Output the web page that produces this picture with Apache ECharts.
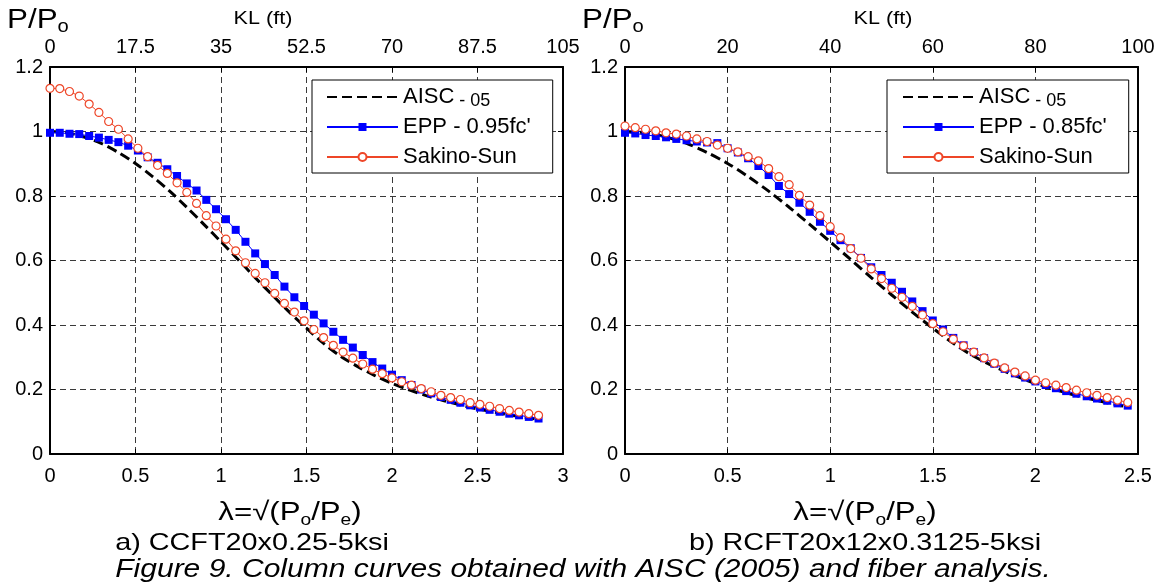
<!DOCTYPE html>
<html><head><meta charset="utf-8">
<script src="https://cdn.jsdelivr.net/npm/echarts@6/dist/echarts.min.js"></script>
<style>html,body{margin:0;padding:0;background:#fff}#c{width:1165px;height:585px}</style>
</head><body><div id="c"></div>
<script>
// ---------- data ----------
const leftLambda = [0,0.057,0.114,0.171,0.229,0.286,0.343,0.4,0.457,0.514,0.571,0.629,0.686,0.743,0.8,0.857,0.914,0.971,1.029,1.086,1.143,1.2,1.257,1.314,1.371,1.429,1.486,1.543,1.6,1.657,1.714,1.771,1.829,1.886,1.943,2.0,2.057,2.114,2.171,2.229,2.286,2.343,2.4,2.457,2.514,2.571,2.629,2.686,2.743,2.8,2.857];
const leftEPP = [0.996,0.996,0.993,0.992,0.986,0.981,0.974,0.967,0.956,0.941,0.920,0.903,0.883,0.862,0.839,0.817,0.788,0.759,0.728,0.695,0.658,0.622,0.589,0.555,0.519,0.486,0.459,0.432,0.405,0.379,0.354,0.330,0.307,0.285,0.265,0.246,0.229,0.214,0.200,0.188,0.177,0.168,0.159,0.151,0.144,0.137,0.131,0.125,0.120,0.115,0.110];
const leftSakino = [1.134,1.133,1.124,1.110,1.085,1.059,1.031,1.007,0.977,0.948,0.922,0.895,0.870,0.841,0.811,0.777,0.739,0.707,0.666,0.630,0.593,0.560,0.531,0.498,0.467,0.440,0.413,0.386,0.361,0.337,0.316,0.297,0.279,0.263,0.249,0.236,0.224,0.2135,0.203,0.193,0.182,0.175,0.169,0.159,0.154,0.148,0.141,0.135,0.130,0.125,0.120];
const leftAiscLambda = [0,0.1,0.2,0.3,0.4,0.5,0.6,0.7,0.8,0.9,1.0,1.1,1.2,1.3,1.4,1.5,1.6,1.7,1.8,1.9,2.0,2.1,2.2,2.3,2.4,2.5,2.6,2.7,2.8,2.857];
const leftAisc = [1,0.996,0.983,0.963,0.935,0.901,0.860,0.815,0.765,0.712,0.658,0.603,0.547,0.493,0.440,0.390,0.343,0.303,0.271,0.243,0.219,0.199,0.181,0.166,0.152,0.140,0.130,0.120,0.112,0.107];

const rightLambda = [0,0.05,0.1,0.15,0.2,0.25,0.3,0.35,0.4,0.45,0.5,0.55,0.6,0.65,0.7,0.75,0.8,0.85,0.9,0.95,1.0,1.05,1.1,1.15,1.2,1.25,1.3,1.35,1.4,1.45,1.5,1.55,1.6,1.65,1.7,1.75,1.8,1.85,1.9,1.95,2.0,2.05,2.1,2.15,2.2,2.25,2.3,2.35,2.4,2.45];
const rightEPP = [0.996,0.994,0.989,0.986,0.982,0.977,0.973,0.969,0.966,0.964,0.948,0.935,0.917,0.893,0.865,0.831,0.806,0.779,0.751,0.720,0.692,0.663,0.638,0.608,0.579,0.555,0.531,0.503,0.473,0.443,0.414,0.386,0.360,0.337,0.316,0.297,0.280,0.264,0.250,0.237,0.225,0.214,0.204,0.195,0.187,0.179,0.172,0.165,0.157,0.150];
const rightSakino = [1.017,1.012,1.007,1.002,0.996,0.992,0.986,0.977,0.969,0.958,0.948,0.937,0.922,0.909,0.885,0.860,0.835,0.802,0.772,0.739,0.705,0.671,0.637,0.607,0.574,0.544,0.514,0.486,0.458,0.431,0.404,0.379,0.356,0.335,0.316,0.298,0.282,0.267,0.254,0.242,0.229,0.221,0.2135,0.206,0.198,0.190,0.182,0.175,0.167,0.160];
const rightAiscLambda = [0,0.1,0.2,0.3,0.4,0.5,0.6,0.7,0.8,0.9,1.0,1.1,1.2,1.3,1.4,1.5,1.6,1.7,1.8,1.9,2.0,2.1,2.2,2.3,2.4,2.45];
const rightAisc = [1,0.996,0.983,0.963,0.935,0.901,0.860,0.815,0.765,0.712,0.658,0.603,0.547,0.493,0.440,0.390,0.343,0.303,0.271,0.243,0.219,0.199,0.181,0.166,0.152,0.146];

const seriesNames = ['AISC - 05', "EPP - 0.95fc'", "EPP - 0.85fc'", 'Sakino-Sun'];
const leftKLTicks = {min: 0, max: 105, interval: 17.5};
const rightKLTicks = {min: 0, max: 100, interval: 20};
// ------------------------------------------------------------

const FONT = '"Liberation Sans", Arial, sans-serif';
const RED = '#EE4628';
const BLUE = '#0000FF';
const pairs = (xs, ys) => xs.map((x, i) => [x, ys[i]]);

const chart = echarts.init(document.getElementById('c'), null, {renderer: 'canvas'});

function bottomAxis(gi, max) {
  return {
    type: 'value', gridIndex: gi, position: 'bottom', min: 0, max: max, interval: 0.5,
    axisLine: {show: true, onZero: false, lineStyle: {color: '#000', width: 2}},
    axisTick: {show: true, inside: true, length: 5, lineStyle: {color: '#000', width: 1}},
    axisLabel: {color: '#000', fontSize: 20, fontFamily: FONT, margin: 12},
    splitLine: {show: true, lineStyle: {color: '#3a3a3a', width: 1, type: [6, 4]}}
  };
}
function topAxis(gi, t) {
  return {
    type: 'value', gridIndex: gi, position: 'top', min: t.min, max: t.max, interval: t.interval,
    axisLine: {show: true, onZero: false, lineStyle: {color: '#000', width: 2}},
    axisTick: {show: true, inside: true, length: 5, lineStyle: {color: '#000', width: 1}},
    axisLabel: {color: '#000', fontSize: 20, fontFamily: FONT, margin: 10},
    splitLine: {show: false}
  };
}
function leftAxis(gi) {
  return {
    type: 'value', gridIndex: gi, position: 'left', min: 0, max: 1.2, interval: 0.2,
    axisLine: {show: true, onZero: false, lineStyle: {color: '#000', width: 2}},
    axisTick: {show: true, inside: true, length: 5, lineStyle: {color: '#000', width: 1}},
    axisLabel: {color: '#000', fontSize: 20, fontFamily: FONT, margin: 7},
    splitLine: {show: true, lineStyle: {color: '#3a3a3a', width: 1, type: [6, 4]}}
  };
}
function rightAxis(gi) {
  return {
    type: 'value', gridIndex: gi, position: 'right', min: 0, max: 1.2, interval: 0.2,
    axisLine: {show: true, onZero: false, lineStyle: {color: '#000', width: 2}},
    axisTick: {show: true, inside: true, length: 5, lineStyle: {color: '#000', width: 1}},
    axisLabel: {show: false},
    splitLine: {show: false}
  };
}

function aiscSeries(xi, yi, data) {
  return {name: seriesNames[0], type: 'line', xAxisIndex: xi, yAxisIndex: yi, data: data,
    symbol: 'none', smooth: 0.3, z: 3,
    lineStyle: {color: '#000', width: 3, type: [10, 5]}, itemStyle: {color: '#000'}};
}
function eppSeries(name, xi, yi, data) {
  return {name: name, type: 'line', xAxisIndex: xi, yAxisIndex: yi, data: data,
    symbol: 'rect', symbolSize: 8, showAllSymbol: true, z: 4,
    lineStyle: {color: BLUE, width: 1}, itemStyle: {color: BLUE}};
}
function sakinoSeries(xi, yi, data) {
  return {name: seriesNames[3], type: 'line', xAxisIndex: xi, yAxisIndex: yi, data: data,
    symbol: 'circle', symbolSize: 8, showAllSymbol: true, z: 5,
    lineStyle: {color: RED, width: 1}, itemStyle: {color: '#fff', borderColor: RED, borderWidth: 1.2}};
}

const legendText = {
  color: '#000', fontSize: 22, fontFamily: FONT, lineHeight: 26,
  rich: {
    a: {fontSize: 22, fontFamily: FONT, lineHeight: 26, color: '#000'},
    b: {fontSize: 18, fontFamily: FONT, lineHeight: 18, verticalAlign: 'bottom', color: '#000'}
  }
};
const legendFmt = name => name === seriesNames[0] ? '{a|AISC}{b| - 05}' : name;
function legendAt(left, eppName, padLeft) {
  return {
    data: [
      {name: seriesNames[0], itemStyle: {opacity: 0, color: 'rgba(0,0,0,0)', borderWidth: 0}},
      eppName,
      seriesNames[3]
    ],
    orient: 'vertical', left: left, top: 80,
    itemWidth: 71, itemHeight: 10, itemGap: 4, itemTextGap: 9,
    padding: [4, 22, 3, padLeft], borderColor: '#000', borderWidth: 1, backgroundColor: '#fff',
    textStyle: legendText, formatter: legendFmt, selectedMode: false
  };
}

function txt(x, y, text, size, opts) {
  opts = opts || {};
  return {
    type: 'text', x: x, y: y, scaleX: opts.scaleX || 1.2, z: 100,
    style: Object.assign({
      text: text, fill: '#000', fontSize: size, fontFamily: FONT,
      textAlign: opts.align || 'center', textVerticalAlign: 'middle'
    }, opts.style || {})
  };
}
const lamRich = {
  m: {fontSize: 26, fontFamily: FONT, lineHeight: 32, fill: '#000'},
  s: {fontSize: 16, fontFamily: FONT, lineHeight: 16, verticalAlign: 'bottom', fill: '#000'}
};
const lamText = '{m|λ=√(P}{s|o}{m|/P}{s|e}{m|)}';
const poRich = {
  p: {fontSize: 28, fontFamily: FONT, lineHeight: 32, fill: '#000'},
  o: {fontSize: 18, fontFamily: FONT, lineHeight: 16, verticalAlign: 'bottom', fill: '#000'}
};

const option = {
  backgroundColor: '#fff',
  animation: false,
  grid: [
    {left: 50, top: 67, width: 513, height: 387, containLabel: false},
    {left: 625, top: 67, width: 513, height: 387, containLabel: false}
  ],
  xAxis: [bottomAxis(0, 3), topAxis(0, leftKLTicks), bottomAxis(1, 2.5), topAxis(1, rightKLTicks)],
  yAxis: [leftAxis(0), rightAxis(0), leftAxis(1), rightAxis(1)],
  legend: [
    legendAt(312, seriesNames[1], 14),
    legendAt(887, seriesNames[2], 15)
  ],
  series: [
    aiscSeries(0, 0, pairs(leftAiscLambda, leftAisc)),
    eppSeries(seriesNames[1], 0, 0, pairs(leftLambda, leftEPP)),
    sakinoSeries(0, 0, pairs(leftLambda, leftSakino)),
    aiscSeries(2, 2, pairs(rightAiscLambda, rightAisc)),
    eppSeries(seriesNames[2], 2, 2, pairs(rightLambda, rightEPP)),
    sakinoSeries(2, 2, pairs(rightLambda, rightSakino))
  ],
  graphic: [
    txt(7, 20, '{p|P/P}{o|o}', 28, {align: 'left', scaleX: 1.12, style: {rich: poRich}}),
    txt(582, 20, '{p|P/P}{o|o}', 28, {align: 'left', scaleX: 1.12, style: {rich: poRich}}),
    txt(263, 19, 'KL (ft)', 18),
    txt(883, 19, 'KL (ft)', 18),
    txt(290, 513, lamText, 26, {style: {rich: lamRich}}),
    txt(865, 513, lamText, 26, {style: {rich: lamRich}}),
    txt(252, 543, 'a) CCFT20x0.25-5ksi', 24),
    txt(865, 543, 'b) RCFT20x12x0.3125-5ksi', 24),
    txt(583, 570, 'Figure 9. Column curves obtained with AISC (2005) and fiber analysis.', 25, {style: {fontStyle: 'italic'}})
  ]
};
chart.setOption(option);
</script>
</body></html>
